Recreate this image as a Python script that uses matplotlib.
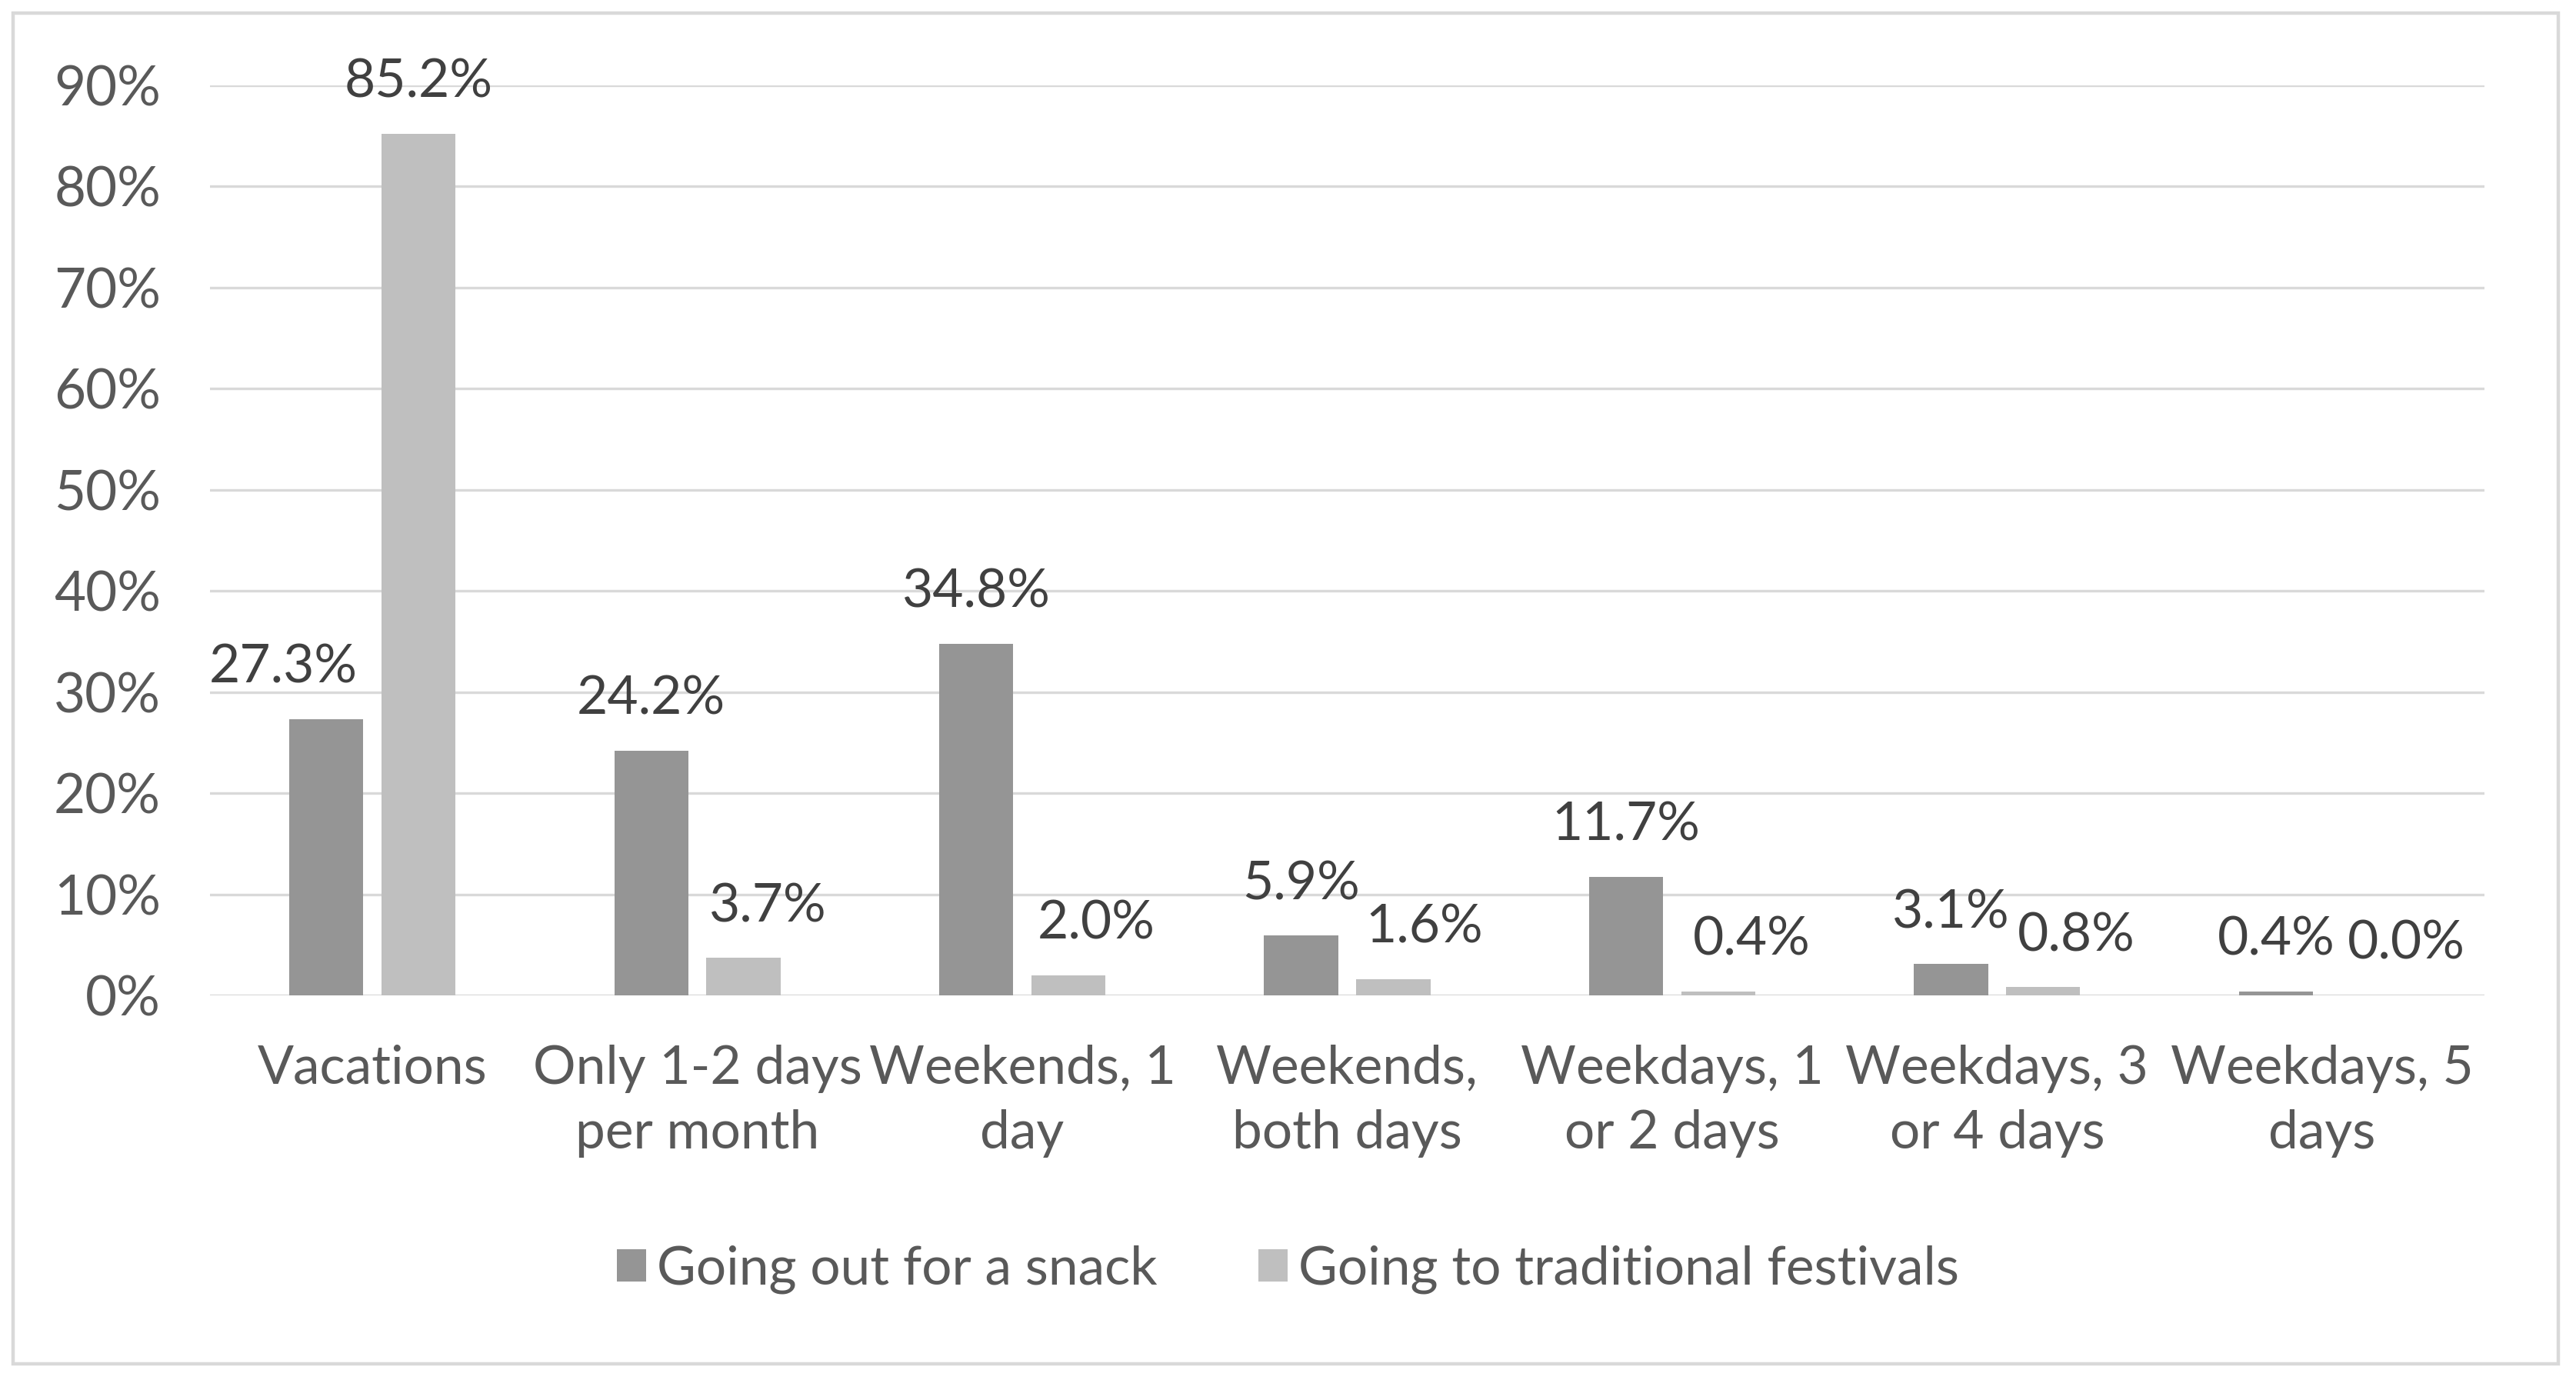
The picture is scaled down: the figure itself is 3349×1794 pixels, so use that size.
import numpy as np
import matplotlib.pyplot as plt
from matplotlib.patches import Rectangle

# Chart data (percentages)
categories = ["Vacations", "Only 1-2 days\nper month", "Weekends, 1\nday",
              "Weekends,\nboth days", "Weekdays, 1\nor 2 days",
              "Weekdays, 3\nor 4 days", "Weekdays, 5\ndays"]
snack = [27.3, 24.2, 34.8, 5.9, 11.7, 3.1, 0.4]
festivals = [85.2, 3.7, 2.0, 1.6, 0.4, 0.8, 0.0]
series_names = ["Going out for a snack", "Going to traditional festivals"]
yticks = [0, 10, 20, 30, 40, 50, 60, 70, 80, 90]

plt.rcParams['font.family'] = ['Lato', 'DejaVu Sans']

W, H = 3349, 1794
fig = plt.figure(figsize=(W / 100, H / 100), dpi=100)
fig.patches.append(Rectangle((17 / W, 1 - 1773 / H), (3326 - 17) / W, (1773 - 17) / H,
                             transform=fig.transFigure, fill=False,
                             edgecolor='#d9d9d9', linewidth=3.2))

ax = fig.add_axes([273 / W, 1 - 1294 / H, (3230 - 273) / W, (1294 - 111) / H])

x = np.arange(len(categories))
bw = 0.228
off = 0.142
dark, light = '#959595', '#bfbfbf'
b1 = ax.bar(x - off, snack, bw, color=dark, zorder=3)
b2 = ax.bar(x + off, festivals, bw, color=light, zorder=3)

fs = 50
# horizontal nudges (points) for data labels, as placed in the source
nudge1 = [-40, 0, 0, 0, 0, 0, 0]
nudge2 = [0, 23, 26, 29, 31, 31, 36]
for i in range(len(categories)):
    ax.annotate(f"{snack[i]:.1f}%", (x[i] - off, snack[i]), xytext=(nudge1[i], 34),
                textcoords='offset points', ha='center', va='baseline',
                fontsize=fs, color='#404040')
    ax.annotate(f"{festivals[i]:.1f}%", (x[i] + off, festivals[i]), xytext=(nudge2[i], 34),
                textcoords='offset points', ha='center', va='baseline',
                fontsize=fs, color='#404040')

ax.set_xlim(-0.5, len(categories) - 0.5)
ax.set_ylim(0, 90)
ax.set_yticks(yticks)
ax.set_yticklabels([f"{t}%" for t in yticks])
ax.set_xticks(x)
ax.set_xticklabels(categories, linespacing=1.42)
ax.tick_params(axis='y', length=0, pad=46, labelsize=fs + 1, labelcolor='#595959')
ax.tick_params(axis='x', length=0, pad=46, labelsize=fs, labelcolor='#595959')
ax.grid(axis='y', color='#d9d9d9', linewidth=2.4, zorder=0)
ax.set_axisbelow(True)
for s in ax.spines.values():
    s.set_visible(False)

leg = fig.legend([b1, b2], series_names, loc='center', bbox_to_anchor=(0.5, 1 - 1650 / H),
                 ncol=2, frameon=False, fontsize=fs, labelcolor='#595959',
                 handlelength=0.55, handleheight=0.55, handletextpad=0.2,
                 columnspacing=1.9)

fig.savefig("out.png", dpi=100)
